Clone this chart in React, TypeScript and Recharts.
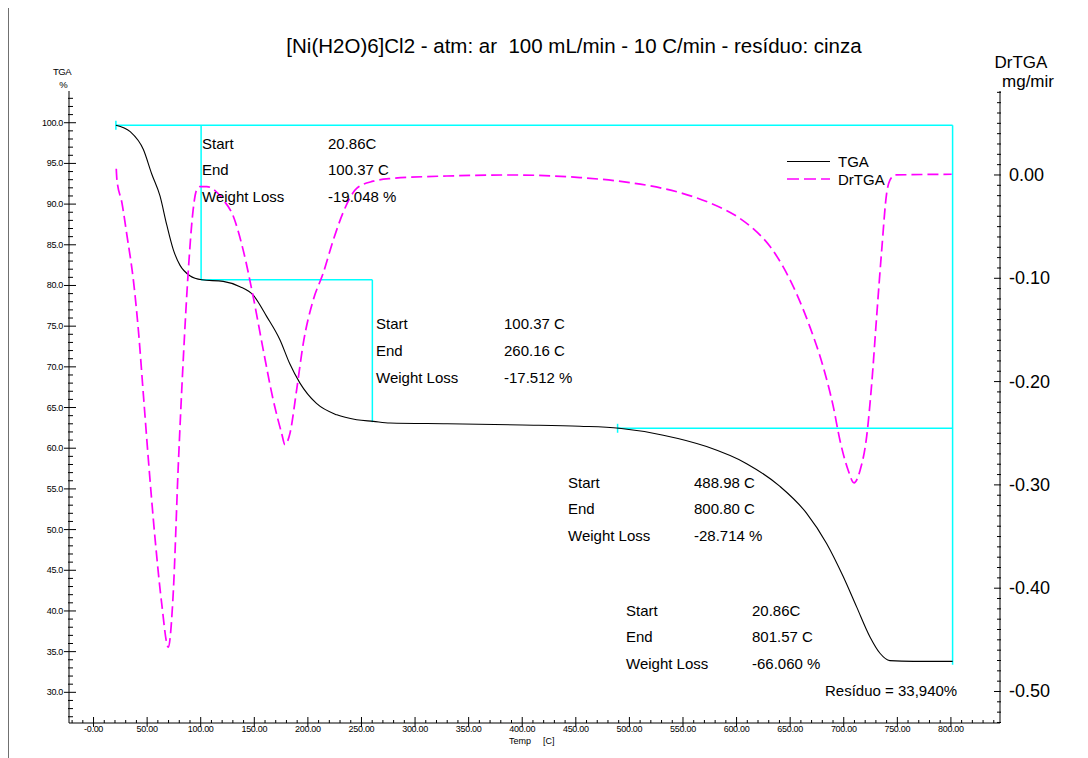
import React from "react";
import { ComposedChart, Line, XAxis, YAxis, ReferenceLine } from "recharts";

// ---------- data ----------
const TGA_TEMP = [20.86, 34.2, 46.5, 54.3, 62, 68.2, 74.4, 80.6, 89.9, 101, 121, 136.6, 149, 161.5, 174, 183, 192.6, 208, 227, 245.5, 261, 276.6, 330, 400, 453.8, 490.5, 531.6, 572, 609.4, 640.5, 665.4, 684, 699.6, 712, 724.5, 733.8, 743, 765, 801.6];
const TGA_VALUES = [99.7, 98.9, 96.7, 93.7, 91.0, 87.5, 84.4, 82.5, 81.2, 80.7, 80.5, 79.85, 78.8, 76.2, 73.3, 70.4, 68.0, 65.5, 64.1, 63.5, 63.3, 63.1, 63.0, 62.85, 62.7, 62.45, 61.6, 60.2, 58.1, 55.3, 52.0, 48.3, 44.2, 40.5, 36.8, 34.8, 33.9, 33.8, 33.8];

const DRTGA_TEMP = [21.2, 21.8, 26.5, 31.1, 37.3, 41.9, 46.6, 51.2, 57.4, 63.5, 69.7, 74.4, 79.0, 83.7, 88.4, 92.9, 96.0, 99.3, 105.5, 121.0, 130.4, 139.7, 149.0, 158.3, 167.7, 175.5, 178.6, 183.3, 189.5, 195.7, 205.0, 214.3, 223.7, 233.0, 245.5, 261.0, 276.6, 329.5, 391.6, 453.9, 490.0, 519.2, 550.2, 575.1, 603.1, 615.5, 631.1, 643.5, 656.0, 668.4, 680.9, 690.2, 696.5, 704.2, 709.6, 715.2, 721.4, 726.1, 730.7, 735.4, 740.0, 743.1, 747.8, 800.7];
const DRTGA_VALUES = [0.006, -0.0045, -0.027, -0.058, -0.103, -0.151, -0.214, -0.276, -0.352, -0.414, -0.457, -0.404, -0.283, -0.179, -0.093, -0.034, -0.015, -0.0113, -0.0113, -0.024, -0.040, -0.073, -0.118, -0.169, -0.218, -0.25, -0.261, -0.25, -0.208, -0.163, -0.121, -0.095, -0.063, -0.036, -0.013, -0.006, -0.0035, -0.001, 0.0, -0.0025, -0.006, -0.0105, -0.018, -0.027, -0.042, -0.052, -0.069, -0.089, -0.115, -0.147, -0.186, -0.224, -0.257, -0.286, -0.298, -0.286, -0.253, -0.202, -0.137, -0.073, -0.018, -0.005, 0.0, 0.0007];

// step analysis (cyan construction lines)
const STEP_TEMPS = [20.86, 100.37, 260.16, 488.98, 801.57];
const STEP_LEVELS = [99.7, 80.7, 63.2, 62.45, 33.4];

// tick labels
const TEMP_MAJOR = [0, 50, 100, 150, 200, 250, 300, 350, 400, 450, 500, 550, 600, 650, 700, 750, 800];
const TGA_MAJOR = [30, 35, 40, 45, 50, 55, 60, 65, 70, 75, 80, 85, 90, 95, 100];
const DRTGA_MAJOR = [-0.5, -0.4, -0.3, -0.2, -0.1, 0];

// annotation texts
const BOX_LABELS = ["Start", "End", "Weight Loss"];
const BOX1 = ["20.86C", "100.37 C", "-19.048 %"];
const BOX2 = ["100.37 C", "260.16 C", "-17.512 %"];
const BOX3 = ["488.98 C", "800.80 C", "-28.714 %"];
const BOX4 = ["20.86C", "801.57 C", "-66.060 %"];
const RESIDUE = "Resíduo = 33,940%";
const TITLE = "[Ni(H2O)6]Cl2 - atm: ar  100 mL/min - 10 C/min - resíduo: cinza";

// ---------- derived tables ----------
const tgaData = TGA_TEMP.map((t, i) => ({ t, w: TGA_VALUES[i] }));
const drData = DRTGA_TEMP.map((t, i) => ({ t, d: DRTGA_VALUES[i] }));

const tempTicks: number[] = [];
for (let v = -20; v <= 840; v += 10) tempTicks.push(v);
const tgaTicks: number[] = [];
for (let v = 27; v <= 103; v += 1) tgaTicks.push(v);
const drTicks: number[] = [];
for (let i = -53; i <= 8; i += 1) drTicks.push(i / 100);

const FONT = '"Liberation Sans", Arial, Helvetica, sans-serif';
const CYAN = "#00ffff";
const MAGENTA = "#ff00ff";

const BottomTick = (p: any) => {
  const { x, y, payload } = p;
  const v = payload.value;
  const major = TEMP_MAJOR.includes(v);
  return (
    <g>
      <line x1={x} x2={x} y1={major ? y - 6 : y - 3} y2={major ? y + 4 : y} stroke="#000" strokeWidth={1} />
      {major && (
        <text x={x} y={y + 6} textAnchor="middle" dominantBaseline="central" fontSize={9} fontFamily={FONT} fill="#000" letterSpacing={-0.3}>
          {v === 0 ? "-0.00" : v.toFixed(2)}
        </text>
      )}
    </g>
  );
};

const LeftTick = (p: any) => {
  const { x, y, payload } = p;
  const v = payload.value;
  const major = TGA_MAJOR.includes(v);
  return (
    <g>
      <line x1={major ? x - 5 : x - 1} x2={major ? x + 7 : x + 4} y1={y} y2={y} stroke="#000" strokeWidth={1} />
      {major && (
        <text x={x - 6} y={y} textAnchor="end" dominantBaseline="central" fontSize={9} fontFamily={FONT} fill="#000" letterSpacing={-0.3}>
          {v.toFixed(1)}
        </text>
      )}
    </g>
  );
};

const RightTick = (p: any) => {
  const { x, y, payload } = p;
  const v = payload.value;
  const major = DRTGA_MAJOR.some((m) => Math.abs(m - v) < 1e-6);
  return (
    <g>
      <line x1={major ? x - 6 : x - 3} x2={x + 1} y1={y} y2={y} stroke="#000" strokeWidth={1} />
      {major && (
        <text x={x + 9} y={y} textAnchor="start" dominantBaseline="central" fontSize={18} fontFamily={FONT} fill="#000">
          {Math.abs(v) < 1e-9 ? "0.00" : v.toFixed(2)}
        </text>
      )}
    </g>
  );
};

const Box = ({ lx, vx, ys, values }: { lx: number; vx: number; ys: number[]; values: string[] }) => (
  <g>
    {BOX_LABELS.map((l, i) => (
      <text key={"l" + i} x={lx} y={ys[i]} dominantBaseline="central" fontSize={15} fontFamily={FONT} fill="#000" style={{ whiteSpace: "pre" }}>
        {l}
      </text>
    ))}
    {values.map((v, i) => (
      <text key={"v" + i} x={vx} y={ys[i]} dominantBaseline="central" fontSize={15} fontFamily={FONT} fill="#000">
        {v}
      </text>
    ))}
  </g>
);

const seg = (x1: number, y1: number, x2: number, y2: number, k: string) => (
  <ReferenceLine
    key={k}
    yAxisId="tga"
    segment={[{ x: x1, y: y1 }, { x: x2, y: y2 }]}
    stroke={CYAN}
    strokeWidth={1.5}
    ifOverflow="visible"
  />
);

export default function App() {
  const [s0, s1, s2, s3, s4] = STEP_TEMPS;
  const [l0, l1, l2, l3, l4] = STEP_LEVELS;
  return (
    <div style={{ position: "relative", width: 1080, height: 750, fontFamily: FONT }}>
      <div style={{ position: "absolute", left: 1, top: 0 }}>
        <ComposedChart width={1079} height={750} margin={{ top: 83, left: 10, right: 8, bottom: 5 }}>
          <XAxis
            xAxisId={0}
            type="number"
            dataKey="t"
            domain={[-22.9, 845.8]}
            allowDataOverflow
            ticks={tempTicks}
            interval={0}
            tickSize={0}
            tickMargin={0}
            tickLine={false}
            tick={(p: any) => <BottomTick {...p} />}
            axisLine={{ stroke: "#000" }}
            height={30}
          />
          <YAxis
            yAxisId="tga"
            orientation="left"
            type="number"
            domain={[26.23, 103.9]}
            allowDataOverflow
            ticks={tgaTicks}
            interval={0}
            tickSize={0}
            tickMargin={0}
            tickLine={false}
            tick={(p: any) => <LeftTick {...p} />}
            axisLine={{ stroke: "#000" }}
            width={50}
          />
          <YAxis
            yAxisId="dr"
            orientation="right"
            type="number"
            domain={[-0.5305, 0.0813]}
            allowDataOverflow
            ticks={drTicks}
            interval={0}
            tickSize={0}
            tickMargin={0}
            tickLine={false}
            tick={(p: any) => <RightTick {...p} />}
            axisLine={{ stroke: "#000" }}
            width={80}
          />
          {seg(s0, l0, s4, l0, "a")}
          {seg(s1, l0, s1, l1, "b")}
          {seg(s1, l1, s2, l1, "c")}
          {seg(s2, l1, s2, l2, "d")}
          {seg(s3, l3, s4, l3, "e")}
          {seg(s4, l0, s4, l4, "f")}
          {seg(s0, l0 - 0.55, s0, l0 + 0.55, "g")}
          {seg(s3, l3 - 0.55, s3, l3 + 0.55, "h")}
          <Line
            yAxisId="tga"
            data={tgaData}
            dataKey="w"
            type="monotone"
            stroke="#000"
            strokeWidth={1.1}
            dot={false}
            isAnimationActive={false}
          />
          <Line
            yAxisId="dr"
            data={drData}
            dataKey="d"
            type="monotone"
            stroke={MAGENTA}
            strokeWidth={1.7}
            strokeDasharray="11 5"
            dot={false}
            isAnimationActive={false}
          />
        </ComposedChart>
      </div>
      <svg
        width={1088}
        height={758}
        style={{ position: "absolute", left: -8, top: -8, pointerEvents: "none", overflow: "visible" }}
      >
        {/* frame */}
        <line x1={8.5} x2={8.5} y1={7} y2={758} stroke="#707070" strokeWidth={1} />
        <line x1={8} x2={1088} y1={7.5} y2={7.5} stroke="#707070" strokeWidth={1} />
        {/* title */}
        <text x={574} y={45} textAnchor="middle" dominantBaseline="central" fontSize={20.5} fontFamily={FONT} fill="#000" style={{ whiteSpace: "pre" }}>
          {TITLE}
        </text>
        {/* axis titles */}
        <text x={62} y={71} textAnchor="middle" dominantBaseline="central" fontSize={9.5} fontFamily={FONT} fill="#000" letterSpacing={-0.5}>TGA</text>
        <text x={63.5} y={84} textAnchor="middle" dominantBaseline="central" fontSize={9.5} fontFamily={FONT} fill="#000">%</text>
        <text x={1021} y={62} textAnchor="middle" dominantBaseline="central" fontSize={17} fontFamily={FONT} fill="#000">DrTGA</text>
        <text x={1028} y={81} textAnchor="middle" dominantBaseline="central" fontSize={17} fontFamily={FONT} fill="#000">mg/mir</text>
        <text x={509} y={741} dominantBaseline="central" fontSize={9} fontFamily={FONT} fill="#000">Temp</text>
        <text x={543} y={741} dominantBaseline="central" fontSize={9} fontFamily={FONT} fill="#000">[C]</text>
        {/* legend */}
        <line x1={787} x2={830} y1={161.5} y2={161.5} stroke="#000" strokeWidth={1} />
        <text x={838} y={161} dominantBaseline="central" fontSize={15} fontFamily={FONT} fill="#000">TGA</text>
        <line x1={787} x2={830} y1={179} y2={179} stroke={MAGENTA} strokeWidth={1.5} strokeDasharray="12 5" />
        <text x={838} y={179} dominantBaseline="central" fontSize={15} fontFamily={FONT} fill="#000">DrTGA</text>
        {/* annotations */}
        <Box lx={202} vx={328} ys={[143, 169, 196]} values={BOX1} />
        <Box lx={376} vx={504} ys={[323, 350, 377]} values={BOX2} />
        <Box lx={568} vx={694} ys={[482, 508, 535]} values={BOX3} />
        <Box lx={626} vx={752} ys={[610, 636, 663]} values={BOX4} />
        <text x={825} y={690} dominantBaseline="central" fontSize={15} fontFamily={FONT} fill="#000">{RESIDUE}</text>
      </svg>
    </div>
  );
}
